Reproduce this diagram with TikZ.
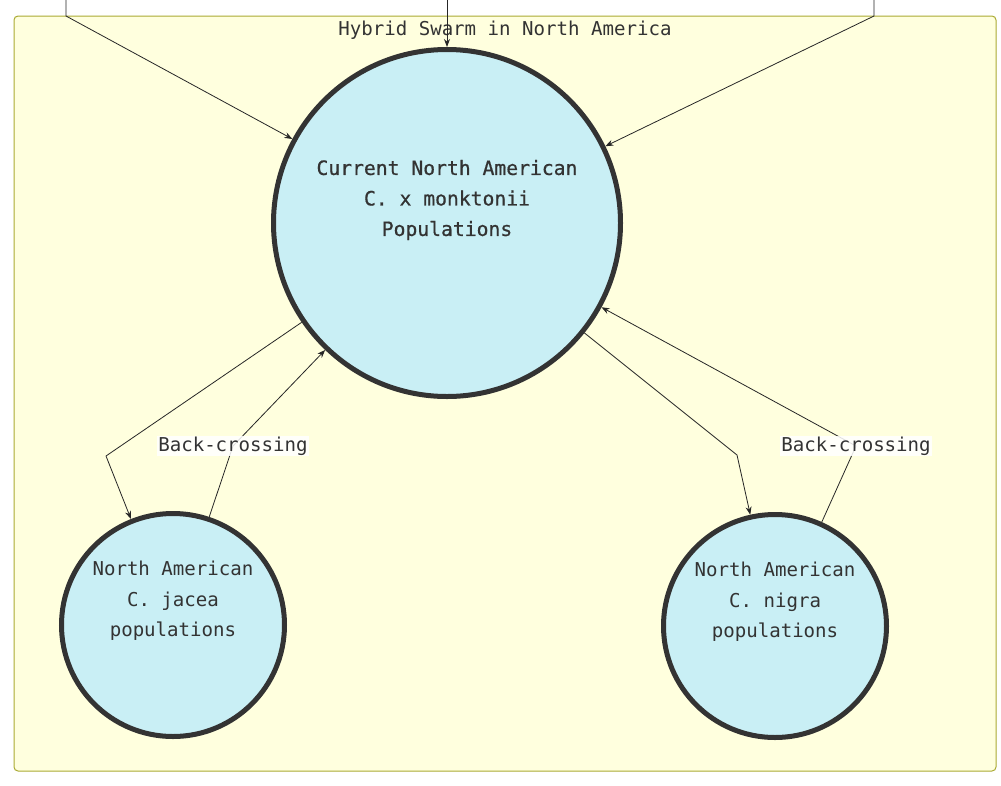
\documentclass[tikz,border=0pt]{standalone}
\usepackage{fontspec}
\setmonofont{DejaVu Sans Mono}
\newfontfamily\curfont[FakeBold=0.7]{DejaVu Sans Mono}
\usetikzlibrary{arrows.meta}
\definecolor{clfill}{HTML}{FFFFDE}
\definecolor{cldraw}{HTML}{AAAA33}
\definecolor{popfill}{HTML}{C9EFF5}
\definecolor{ink}{HTML}{333333}
\tikzset{
  cluster/.style={draw=cldraw, fill=clfill, line width=1pt, rounded corners=4pt},
  pop/.style={circle, draw=ink, fill=popfill, line width=5pt, inner sep=0pt},
  poptext/.style={align=center, text=ink, font=\ttfamily\fontsize{19.1}{30.5}\selectfont},
  arr/.style={draw=black!85, line width=0.8pt, -{Stealth[length=8pt,width=6pt]}},
  lbl/.style={fill=white, fill opacity=0.85, text opacity=1, text=ink, inner sep=1pt, font=\ttfamily\fontsize{19.1}{22}\selectfont},
}
\begin{document}
\begin{tikzpicture}[x=1pt,y=-1pt]
\useasboundingbox (0,0) rectangle (1001,785);
\fill[white] (0,0) rectangle (1001,785);
\path[cluster] (14,16) rectangle (996,771);
\node[text=ink, font=\ttfamily\fontsize{19.1}{22}\selectfont] (title) at (505,30) {Hybrid Swarm in North America};

\node[pop, minimum size=347pt] (cur) at (447,223) {};
\node[poptext, font=\curfont\fontsize{19.7}{30.5}\selectfont] (curtxt) at (447,200) {Current North American\\C. x monktonii\\Populations};
\node[pop, minimum size=223pt] (jac) at (173,625) {};
\node[poptext] (jactxt) at (173,601) {North American\\C. jacea\\populations};
\node[pop, minimum size=223pt] (nig) at (775,626) {};
\node[poptext] (nigtxt) at (775,602) {North American\\C. nigra\\populations};

% incoming edges from outside the picture
\coordinate (inL) at (66,-2);
\coordinate (bL) at (66,16);
\coordinate (inM) at (447,-2);
\coordinate (inR) at (874,-2);
\coordinate (bR) at (874,16);
\draw[arr] (inL) -- (bL) -- (cur);
\draw[arr] (inM) -- (cur);
\draw[arr] (inR) -- (bR) -- (cur);

% hybrid to parents
\coordinate (dL) at (106,456);
\coordinate (dR) at (737,455);
\draw[arr] (cur) -- (dL) -- (jac);
\draw[arr] (cur) -- (dR) -- (nig);

% back-crossing
\coordinate (b1) at (233,446);
\coordinate (b2) at (856,446);
\draw[arr] (jac) -- (b1) -- (cur);
\draw[arr] (nig) -- (b2) -- (cur);
\node[lbl] (bc1) at (b1) {Back-crossing};
\node[lbl] (bc2) at (b2) {Back-crossing};
\end{tikzpicture}
\end{document}
